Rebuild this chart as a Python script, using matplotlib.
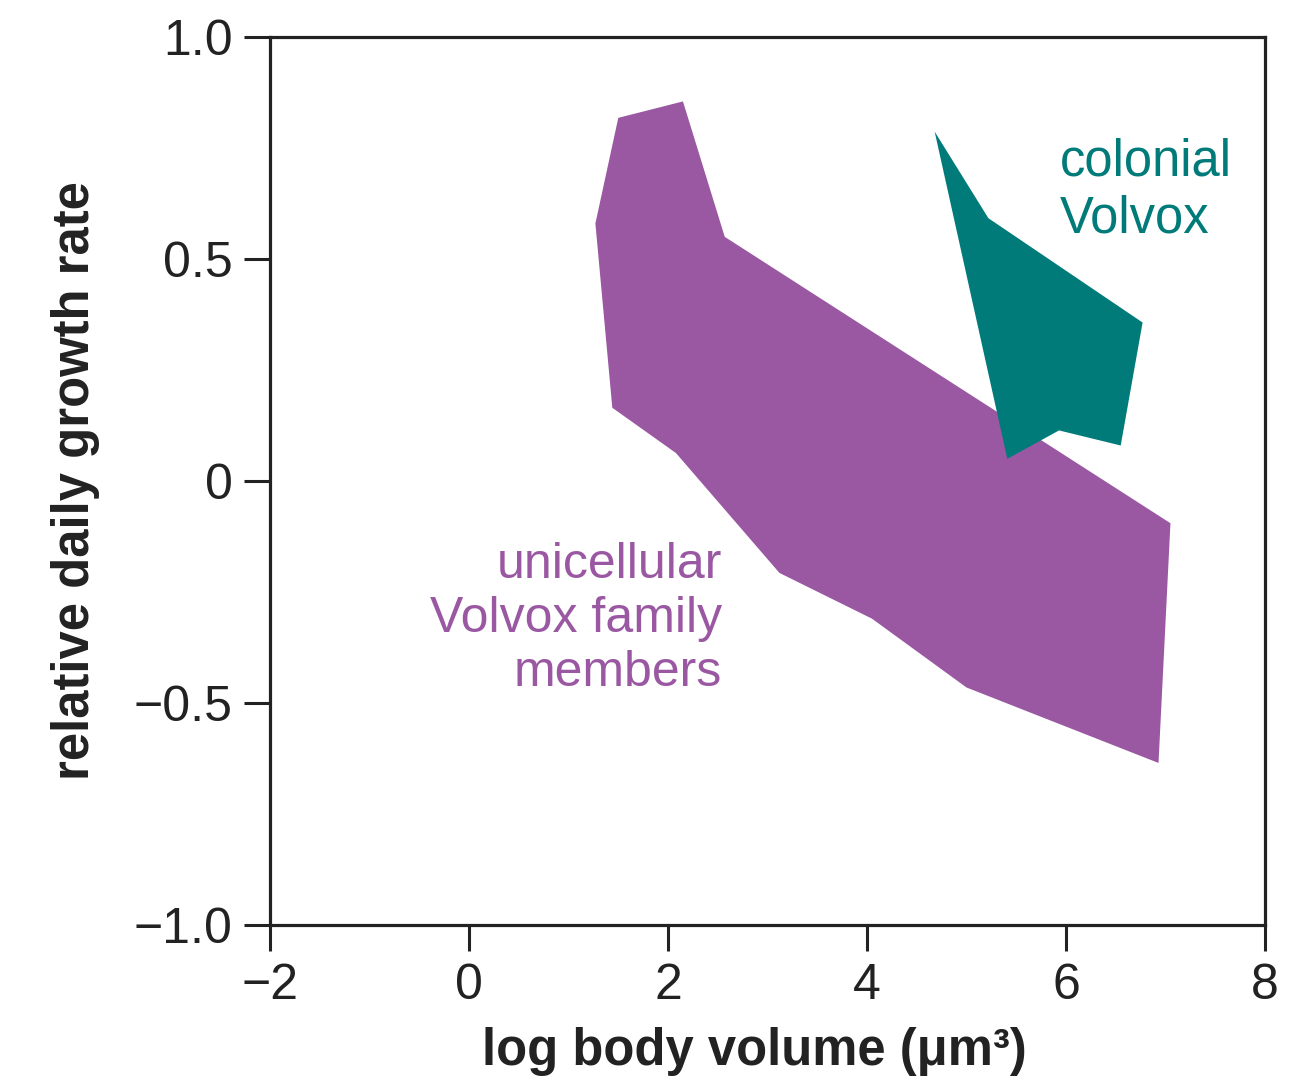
import matplotlib.pyplot as plt
from matplotlib.patches import Polygon

plt.rcParams['font.family'] = ['Liberation Sans', 'DejaVu Sans']

# outline of the unicellular region (log volume, growth rate)
uni_x = [1.27, 1.50, 2.15, 2.57, 7.05, 6.93, 5.00, 4.05, 3.12, 2.08, 1.44]
uni_y = [0.58, 0.818, 0.855, 0.55, -0.095, -0.635, -0.465, -0.31, -0.207, 0.063, 0.165]

# outline of the colonial region
col_x = [4.68, 5.22, 6.77, 6.55, 5.93, 5.41]
col_y = [0.787, 0.592, 0.357, 0.08, 0.114, 0.05]

xticks = [-2, 0, 2, 4, 6, 8]
yticks = [-1.0, -0.5, 0, 0.5, 1.0]
ytick_labels = ['\u22121.0', '\u22120.5', '0', '0.5', '1.0']
xtick_labels = ['\u22122', '0', '2', '4', '6', '8']

purple = '#9a58a2'
teal = '#007b7a'

fig = plt.figure(figsize=(12.99, 10.8), dpi=100)
ax = fig.add_axes([0.2079, 0.1435, 0.7659, 0.8222])

ax.add_patch(Polygon(list(zip(uni_x, uni_y)), closed=True, facecolor=purple, edgecolor='none'))
ax.add_patch(Polygon(list(zip(col_x, col_y)), closed=True, facecolor=teal, edgecolor='none'))

ax.set_xlim(-2, 8)
ax.set_ylim(-1.0, 1.0)
ax.set_xticks(xticks)
ax.set_xticklabels(xtick_labels)
ax.set_yticks(yticks)
ax.set_yticklabels(ytick_labels)
ax.tick_params(labelsize=36, length=19, width=2.2, pad=8, color='#222222', labelcolor='#222222')

for s in ax.spines.values():
    s.set_linewidth(2.3)
    s.set_color('#222222')

ax.set_xlabel('log body volume (\u03bcm\u00b3)', fontsize=36.5, fontweight='bold', color='#222222', labelpad=13)
ax.xaxis.label.set_x(0.487)
ax.set_ylabel('relative daily growth rate', fontsize=36.5, fontweight='bold', color='#222222', labelpad=24)

ax.text(5.94, 0.655, 'colonial\nVolvox', color=teal, fontsize=36.5, ha='left', va='center', linespacing=1.22)
ax.text(2.54, -0.31, 'unicellular\nVolvox family\nmembers', color=purple, fontsize=36,
        ha='right', va='center', linespacing=1.22, multialignment='right')

fig.savefig('out.png', dpi=100)
